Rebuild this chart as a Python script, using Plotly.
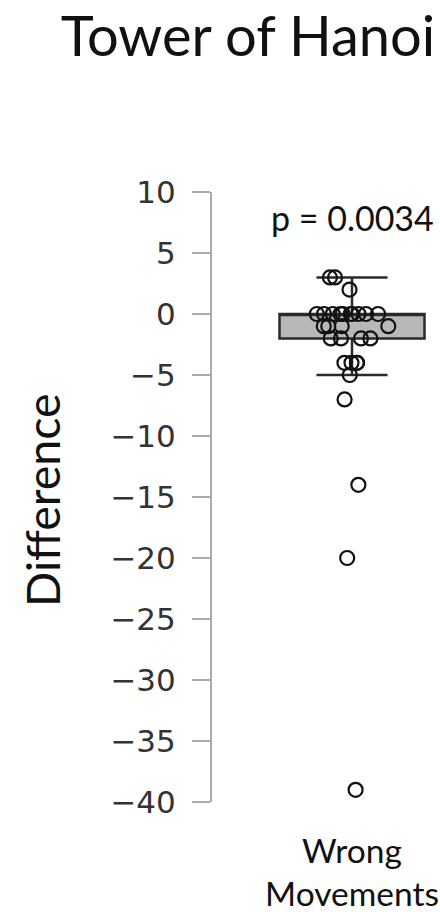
import plotly.graph_objects as go

# ---- data ----
category = ["Wrong<br>Movements"]
differences = [3, 3, 2,
               0, 0, 0, 0, 0, 0, 0, 0, 0, 0,
               -1, -1, -1, -1,
               -2, -2, -2, -2,
               -4, -4, -4, -4,
               -5, -7, -14, -20, -39]
box_q1 = [-2]
box_median = [0]
box_q3 = [0]
box_lowerfence = [-5]
box_upperfence = [3]
p_text = "p = 0.0034"
title_text = "Tower of Hanoi"
y_title = "Difference"
y_tickvals = [10, 5, 0, -5, -10, -15, -20, -25, -30, -35, -40]
y_ticktext = ["10", "5", "0", "\u22125", "\u221210", "\u221215", "\u221220",
              "\u221225", "\u221230", "\u221235", "\u221240"]

W, H = 440, 912
PL, PR, PT, PB = 212, W, 192, 802          # plot area in figure px
PW, PH = PR - PL, PB - PT
center_frac = (352 - PL) / PW
box_w = 145 / PW

fig = go.Figure()

fig.add_trace(go.Box(
    x=category, q1=box_q1, median=box_median, q3=box_q3,
    lowerfence=box_lowerfence, upperfence=box_upperfence,
    boxpoints=False, width=box_w, whiskerwidth=0.49,
    fillcolor="#b8b8b8", line=dict(color="#2a2a2a", width=2.5),
    hoverinfo="skip", showlegend=False,
))

fig.add_trace(go.Box(
    x=category * len(differences), y=differences,
    boxpoints="all", jitter=0.8, pointpos=0, width=box_w,
    fillcolor="rgba(0,0,0,0)", line=dict(color="rgba(0,0,0,0)", width=0),
    marker=dict(symbol="circle-open", size=14, color="#111111",
                line=dict(width=2.2, color="#111111")),
    hoverinfo="skip", showlegend=False,
))

fig.update_layout(
    width=W, height=H,
    margin=dict(l=PL, r=0, t=PT, b=H - PB, autoexpand=False),
    paper_bgcolor="white", plot_bgcolor="white",
    boxmode="overlay",
    template="none",
    title=dict(text=title_text, xref="container", x=248 / W,
               xanchor="center", yref="container", y=1 - 36 / H,
               yanchor="middle",
               font=dict(family="Lato", size=56, color="#111111")),
    annotations=[
        dict(text=p_text, xref="x", x=0, yref="y", y=7.9, showarrow=False,
             xanchor="center", yanchor="middle",
             font=dict(family="Lato", size=34, color="#111111")),
        dict(text=y_title, xref="paper", x=(42 - PL) / PW, yref="paper",
             y=(PB - 500) / PH, textangle=-90, showarrow=False,
             xanchor="center", yanchor="middle",
             font=dict(family="Lato", size=46.5, color="#111111")),
    ],
)

fig.update_xaxes(
    type="category", range=[-center_frac, 1 - center_frac], showline=False,
    showgrid=False, zeroline=False, ticks="", automargin=False,
    ticklabelstandoff=26,
    tickfont=dict(family="Lato", size=33.5, color="#111111"),
)
fig.update_yaxes(
    range=[-40, 10], tickvals=y_tickvals, ticktext=y_ticktext,
    showline=True, linecolor="#aaaaaa", linewidth=2, mirror=False,
    showgrid=False, zeroline=False, ticks="outside", ticklen=18,
    tickwidth=2, tickcolor="#aaaaaa", automargin=False,
    ticklabelstandoff=10,
    tickfont=dict(family="DejaVu Sans", size=31, color="#333333"),
)

# remove the default 8px body margin so the 440x912 figure fills the page
fig.write_html("out.html",
               config={"displayModeBar": False},
               post_script="document.body.style.margin='0';")
